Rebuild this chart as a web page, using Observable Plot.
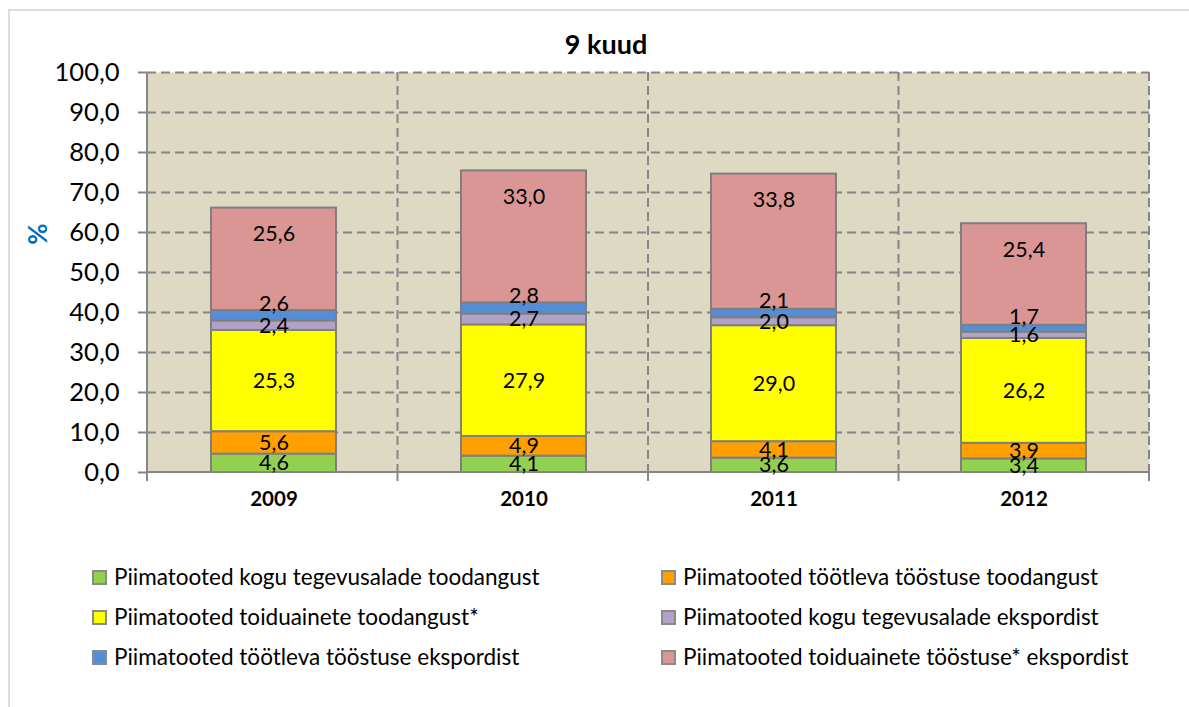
<!DOCTYPE html>
<html><head><meta charset="utf-8">
<script src="https://cdn.jsdelivr.net/npm/d3@7"></script>
<script src="https://cdn.jsdelivr.net/npm/@observablehq/plot@0.6"></script>
<style>
body{margin:0;background:#fff;font-family:Lato,"Open Sans",sans-serif;}
#wrap{position:relative;width:1189px;height:707px;overflow:hidden;}
#border{position:absolute;left:8px;top:9px;width:1400px;height:900px;border:2px solid #DCDCDC;box-sizing:border-box;}
#title{position:absolute;top:27px;left:0;width:1212px;text-align:center;font-weight:bold;font-size:27px;color:#000;}
#ylab{position:absolute;left:22px;top:218px;width:30px;text-align:center;transform:rotate(-90deg);font-weight:bold;font-size:26px;color:#0070C0;}
#chart{position:absolute;left:0;top:0;}
.li{position:absolute;font-size:22.5px;color:#000;white-space:nowrap;line-height:24px;}
.sw{display:inline-block;width:11px;height:11px;border:2px solid #8a8a8a;margin-right:7px;vertical-align:0px;}
</style>
</head><body>
<div id="wrap">
  <div id="border"></div>
  <div id="chart"></div>
  <div id="title">9 kuud</div>
  <div id="ylab">%</div>
  <div id="legend"></div>
</div>
<script>
const years = ["2009", "2010", "2011", "2012"];
const seriesNames = [
  "Piimatooted kogu tegevusalade toodangust",
  "Piimatooted töötleva tööstuse toodangust",
  "Piimatooted toiduainete toodangust*",
  "Piimatooted kogu tegevusalade ekspordist",
  "Piimatooted töötleva tööstuse ekspordist",
  "Piimatooted toiduainete tööstuse* ekspordist"
];
const colors = ["#92D050", "#FFA000", "#FFFF00", "#B3A2C7", "#558ED5", "#D99694"];
const koguToodang = [4.6, 4.1, 3.6, 3.4];
const tootlevaToodang = [5.6, 4.9, 4.1, 3.9];
const toiduToodang = [25.3, 27.9, 29.0, 26.2];
const koguEksport = [2.4, 2.7, 2.0, 1.6];
const tootlevaEksport = [2.6, 2.8, 2.1, 1.7];
const toiduEksport = [25.6, 33.0, 33.8, 25.4];
const yTicks = [0, 10, 20, 30, 40, 50, 60, 70, 80, 90, 100];

const seriesValues = [koguToodang, tootlevaToodang, toiduToodang, koguEksport, tootlevaEksport, toiduEksport];
const data = [];
seriesNames.forEach((s, si) => years.forEach((y, yi) => data.push({year: y, series: s, value: seriesValues[si][yi]})));

const fmt = v => d3.format(".1f")(v).replace(".", ",");
const gridColor = "#868686";

function bandLines(index, scales, values, dims) {
  const y = scales.y;
  const x0 = dims.marginLeft, x1 = dims.width - dims.marginRight;
  const n = years.length;
  const bounds = d3.range(n + 1).map(i => x0 + i * (x1 - x0) / n);
  const yTop = y(yTicks[yTicks.length - 1]), yBot = y(0);
  const g = d3.create("svg:g");
  g.selectAll("line.v").data(bounds.slice(1)).join("line")
    .attr("x1", d => d).attr("x2", d => d).attr("y1", yTop).attr("y2", yBot)
    .attr("stroke", gridColor).attr("stroke-width", 2).attr("stroke-dasharray", "9,5");
  return g.node();
}
function axisLines(index, scales, values, dims) {
  const y = scales.y;
  const x0 = dims.marginLeft, x1 = dims.width - dims.marginRight;
  const n = years.length;
  const bounds = d3.range(n + 1).map(i => x0 + i * (x1 - x0) / n);
  const yTop = y(yTicks[yTicks.length - 1]), yBot = y(0);
  const g = d3.create("svg:g").attr("stroke", gridColor).attr("stroke-width", 2);
  g.append("line").attr("x1", x0).attr("x2", x0).attr("y1", yTop).attr("y2", yBot);
  g.append("line").attr("x1", x0).attr("x2", x1).attr("y1", yBot).attr("y2", yBot);
  g.selectAll("line.t").data(bounds).join("line")
    .attr("x1", d => d).attr("x2", d => d).attr("y1", yBot).attr("y2", yBot + 9);
  return g.node();
}

const chart = Plot.plot({
  width: 1189,
  height: 520,
  marginLeft: 147,
  marginRight: 40,
  marginTop: 72,
  marginBottom: 48,
  style: {fontFamily: "Lato, sans-serif", background: "transparent", overflow: "visible"},
  x: {domain: years, paddingInner: 0.5, paddingOuter: 0.25, axis: null},
  y: {domain: [0, 100], axis: null},
  color: {domain: seriesNames, range: colors},
  marks: [
    Plot.frame({fill: "#DDD9C3", stroke: null}),
    Plot.ruleY(yTicks.filter(d => d > 0), {stroke: gridColor, strokeWidth: 2, strokeDasharray: "9,5"}),
    bandLines,
    Plot.barY(data, {x: "year", y: "value", fill: "series", z: "series", stroke: "#7F7F7F", strokeWidth: 2}),
    axisLines,
    Plot.axisY({ticks: yTicks, tickFormat: fmt, tickSize: 9, tickPadding: 19, fontSize: 25.5, stroke: gridColor, strokeWidth: 2, fill: "#000", label: null}),
    Plot.axisX({tickSize: 0, tickPadding: 19, fontSize: 20.5, fontWeight: "bold", fill: "#000", label: null}),
    Plot.text(data, Plot.stackY({x: "year", y: "value", z: "series",
      text: d => (d.series === seriesNames[4] || d.series === seriesNames[5]) ? null : fmt(d.value),
      fontSize: 21.5, fill: "#000"})),
    Plot.text(data, Plot.stackY({x: "year", y: "value", z: "series",
      text: d => d.series === seriesNames[4] ? fmt(d.value) : null,
      dy: -12, fontSize: 21.5, fill: "#000"})),
    Plot.text(data, Plot.stackY2({x: "year", y: "value", z: "series",
      text: d => d.series === seriesNames[5] ? fmt(d.value) : null,
      dy: 26, fontSize: 21.5, fill: "#000"}))
  ]
});
document.getElementById("chart").appendChild(chart);

// legend
const legendPos = [[92, 565], [661, 565], [92, 605], [661, 605], [92, 645], [661, 645]];
const legendOrder = [0, 1, 2, 3, 4, 5];
const leg = document.getElementById("legend");
legendOrder.forEach((si, i) => {
  const d = document.createElement("div");
  d.className = "li";
  d.style.left = legendPos[i][0] + "px";
  d.style.top = legendPos[i][1] + "px";
  d.innerHTML = `<span class="sw" style="background:${colors[si]}"></span>${seriesNames[si]}`;
  leg.appendChild(d);
});
</script>
</body></html>
